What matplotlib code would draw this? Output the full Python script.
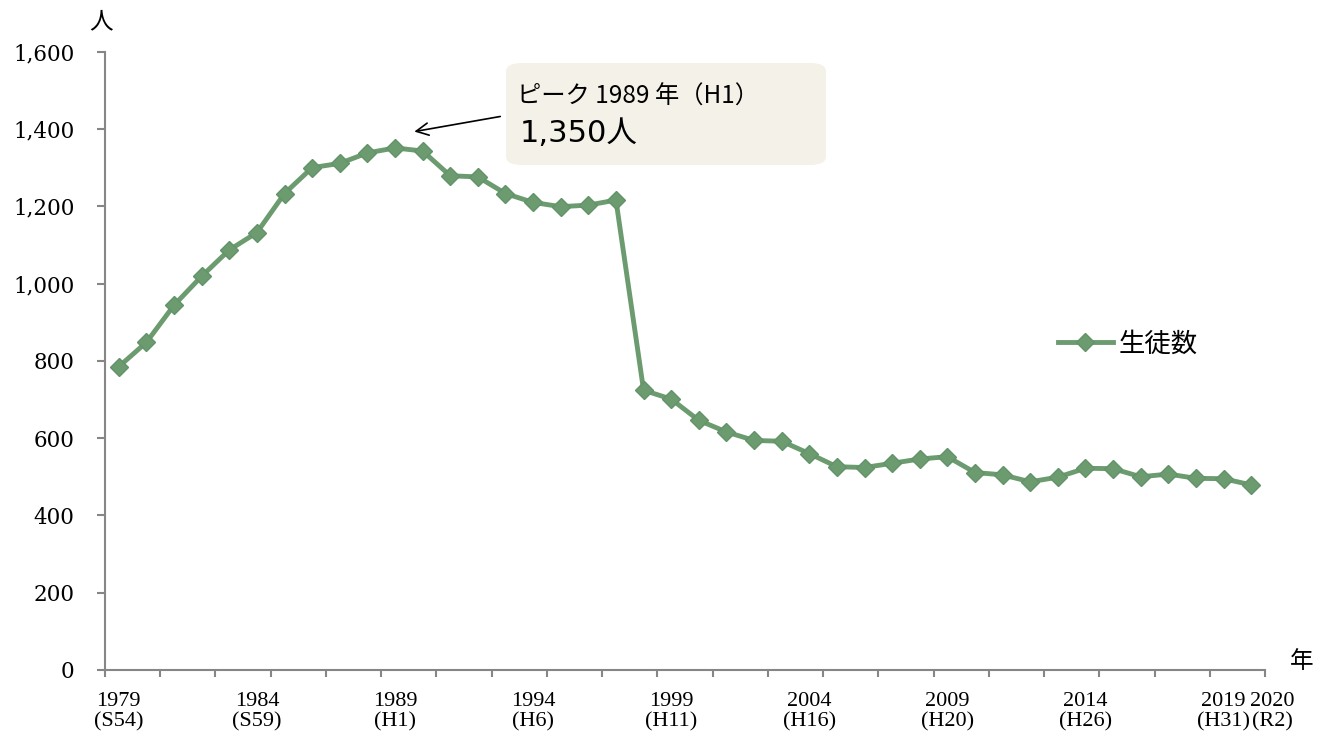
import matplotlib
matplotlib.use("Agg")
import matplotlib.pyplot as plt
from matplotlib.patches import FancyBboxPatch
from matplotlib.ticker import FuncFormatter

years = list(range(1979, 2021))
students = [785, 848, 944, 1019, 1087, 1132, 1233, 1300, 1311, 1338,
            1351, 1343, 1279, 1276, 1233, 1210, 1199, 1203, 1216, 724,
            701, 646, 616, 594, 592, 560, 526, 524, 535, 546,
            552, 511, 505, 487, 499, 522, 521, 500, 507, 496,
            495, 479]
label_years = [1979, 1984, 1989, 1994, 1999, 2004, 2009, 2014, 2019]
label_eras = ["(S54)", "(S59)", "(H1)", "(H6)", "(H11)", "(H16)", "(H20)", "(H26)", "(H31)"]
last_label = ("2020", "(R2)")
series_name = "生徒数"
peak_text1 = "ピーク 1989 年（H1）"
peak_text2 = "1,350人"

color = "#6B9B6E"
axis_color = "#868686"
cjk = ["Noto Sans CJK JP", "DejaVu Sans"]

fig = plt.figure(figsize=(13.17, 7.33), dpi=100)
ax = fig.add_axes([105/1317, 63/733, (1265-105)/1317, (670-51.7)/733])

x = list(range(len(years)))
ax.plot(x, students, color=color, lw=3.5, marker="D", ms=9,
        mfc=color, mec="#62936A", mew=1, label=series_name, zorder=3)

ax.set_xlim(-0.5, len(years) - 0.5)
ax.set_ylim(0, 1600)
ax.set_yticks(range(0, 1601, 200))
ax.yaxis.set_major_formatter(FuncFormatter(lambda v, p: f"{int(v):,}"))

# x ticks at category boundaries every 2 years
ax.set_xticks([i - 0.5 for i in range(0, len(years) + 1, 2)])
ax.set_xticklabels([])
ax.set_xticks([years.index(y) for y in label_years], minor=True)
ax.set_xticklabels([f"{y}\n{e}" for y, e in zip(label_years, label_eras)], minor=True)
ax.tick_params(axis="x", which="minor", length=0, pad=16, labelsize=16)
ax.tick_params(axis="x", which="major", length=5, width=1.5, color=axis_color, direction="out")
ax.tick_params(axis="y", length=6, width=1.5, color=axis_color, pad=16, labelsize=15.5)
for lab in ax.get_xticklabels(minor=True):
    lab.set_family(["Liberation Serif", "DejaVu Serif"])
    lab.set_linespacing(1.1)
for lab in ax.get_yticklabels():
    lab.set_family(["DejaVu Serif"])

ax.annotate(f"{last_label[0]}\n{last_label[1]}", xy=(years.index(2020), 0),
            xycoords=("data", "axes fraction"), xytext=(15, -16), textcoords="offset points",
            ha="center", va="top", fontsize=16, linespacing=1.1,
            family=["Liberation Serif", "DejaVu Serif"])

for s in ["top", "right"]:
    ax.spines[s].set_visible(False)
for s in ["left", "bottom"]:
    ax.spines[s].set_color(axis_color)
    ax.spines[s].set_linewidth(1.5)

# unit labels
fig.text(101/1317, 1 - 22/733, "人", ha="center", va="center", fontsize=17, family=cjk)
fig.text(1302/1317, 1 - 661/733, "年", ha="center", va="center", fontsize=17, family=cjk)

# peak callout box
box = FancyBboxPatch((506/1317, 1 - 165/733), 320/1317, 102/733,
                     boxstyle="round,pad=0,rounding_size=0.012",
                     transform=fig.transFigure, fc="#F4F1E9", ec="none", zorder=1)
fig.patches.append(box)
fig.text(517/1317, 1 - 97/733, peak_text1, ha="left", va="center", fontsize=17.5, family=cjk)
fig.text(520/1317, 1 - 133/733, peak_text2, ha="left", va="center", fontsize=22,
         family=["DejaVu Sans", "Noto Sans CJK JP"])
peak_i = students.index(max(students))
ax.annotate("", xy=(peak_i + 0.6, 1392), xycoords="data",
            xytext=(503/1317, 1 - 116/733), textcoords="figure fraction",
            arrowprops=dict(arrowstyle="->", color="black", lw=1.2, mutation_scale=22))

leg = ax.legend(loc="center left", bbox_to_anchor=(1034/1317, 1 - 344/733),
                bbox_transform=fig.transFigure, frameon=False, handlelength=2.1,
                handletextpad=0.2, prop={"family": cjk, "size": 19})

fig.savefig("out.png", dpi=100)
